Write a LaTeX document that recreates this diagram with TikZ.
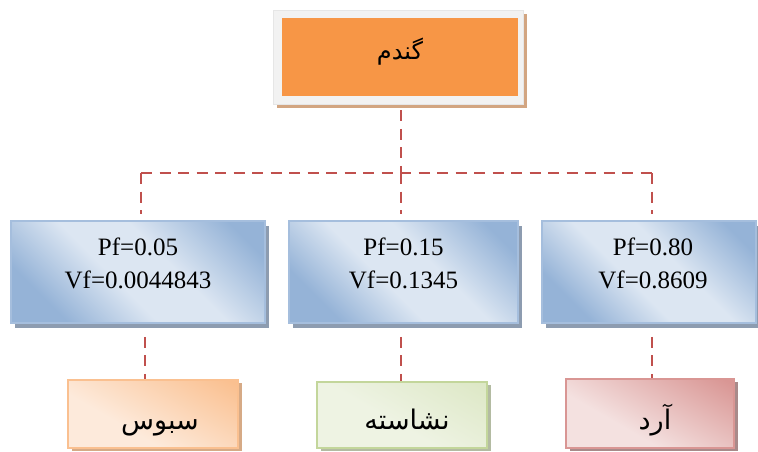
\documentclass[tikz,border=0pt]{standalone}
\usepackage{fontspec}
\setmainfont{Liberation Serif}
\newfontfamily\fa[Script=Arabic]{DejaVu Sans}
\TeXXeTstate=1
\usetikzlibrary{shadows}

% palette
\definecolor{linkRed}{HTML}{C0504D}
\definecolor{orangeMain}{HTML}{F79646}
\definecolor{frameGray}{HTML}{F2F2F2}
\definecolor{frameEdge}{HTML}{E6E6E6}
\definecolor{tanShadow}{HTML}{D2A581}
\definecolor{blueDark}{HTML}{95B3D7}
\definecolor{blueLight}{HTML}{DCE6F2}
\definecolor{blueEdge}{HTML}{A5BEDD}
\definecolor{blueShadow}{HTML}{8D9CB0}
\definecolor{peachLight}{HTML}{FDEADB}
\definecolor{peachDark}{HTML}{FAC090}
\definecolor{peachShadow}{HTML}{D6AA86}
\definecolor{greenLight}{HTML}{EEF3E3}
\definecolor{greenDark}{HTML}{DCE7C4}
\definecolor{greenEdge}{HTML}{C3D69B}
\definecolor{greenShadow}{HTML}{B3BBA2}
\definecolor{roseLight}{HTML}{F4E1E0}
\definecolor{roseDark}{HTML}{D99694}
\definecolor{roseShadow}{HTML}{A98A8A}

% diagonal band shading: dark corners, light middle
\pgfdeclarehorizontalshading{blueband}{100bp}{color(0bp)=(blueDark); color(26bp)=(blueDark); color(44bp)=(blueLight); color(58bp)=(blueLight); color(78bp)=(blueDark); color(100bp)=(blueDark)}
% diagonal ramps for the lower boxes
\pgfdeclarehorizontalshading{peachramp}{100bp}{color(0bp)=(peachLight); color(38bp)=(peachLight); color(82bp)=(peachDark); color(100bp)=(peachDark)}
\pgfdeclarehorizontalshading{greenramp}{100bp}{color(0bp)=(greenLight); color(45bp)=(greenLight); color(85bp)=(greenDark); color(100bp)=(greenDark)}
\pgfdeclarehorizontalshading{roseramp}{100bp}{color(0bp)=(roseLight); color(38bp)=(roseLight); color(82bp)=(roseDark); color(100bp)=(roseDark)}

\tikzset{
  topframe/.style={draw=frameEdge, line width=0.8pt, fill=frameGray, inner sep=0pt,
    minimum width=250pt, minimum height=94pt,
    general shadow={fill=tanShadow, shadow xshift=4pt, shadow yshift=-4pt}},
  topfill/.style={fill=orangeMain, inner sep=0pt, minimum width=236pt, minimum height=78pt},
  midbox/.style={draw=blueEdge, line width=1.6pt, shading=blueband, shading angle=45,
    inner sep=0pt, minimum height=102pt,
    general shadow={fill=blueShadow, shadow xshift=4pt, shadow yshift=-5pt}},
  midtext/.style={align=center, inner sep=0pt, font=\fontsize{25}{33}\selectfont},
  lowbox/.style={line width=1.6pt, inner sep=0pt, minimum width=170pt, minimum height=68pt,
    shading angle=60},
  fatext/.style={inner sep=0pt, anchor=base, font={\fa\fontsize{27}{31}\selectfont}},
  link/.style={draw=linkRed, line width=2.4pt, dash pattern=on 11pt off 7.5pt}
}

\begin{document}
\begin{tikzpicture}[x=1pt, y=-1pt]
  \path[use as bounding box, fill=white] (0,0) rectangle (758,451);

  % top: wheat
  \node[topframe] (top) at (398,57) {};
  \node[topfill] (topin) at (400,57) {};
  \node[fatext, font={\fa\fontsize{24}{28}\selectfont}] (toptext) at (400,59) {\beginR گندم\endR};

  % middle: fraction boxes
  \node[midbox, minimum width=254pt] (m1) at (138,272) {};
  \node[midbox, minimum width=229pt] (m2) at (403.5,272) {};
  \node[midbox, minimum width=214pt] (m3) at (649,272) {};
  \node[midtext] (t1) at (138,263) {Pf=0.05\\Vf=0.0044843};
  \node[midtext] (t2) at (403.5,263) {Pf=0.15\\Vf=0.1345};
  \node[midtext] (t3) at (653,263) {Pf=0.80\\Vf=0.8609};

  % bottom: products
  \node[lowbox, draw=peachDark, shading=peachramp,
    general shadow={fill=peachShadow, shadow xshift=4pt, shadow yshift=-3pt}] (b1) at (153,414) {};
  \node[lowbox, draw=greenEdge, shading=greenramp, minimum height=66pt,
    general shadow={fill=greenShadow, shadow xshift=4pt, shadow yshift=-3pt}] (b2) at (402,415) {};
  \node[lowbox, draw=roseDark, shading=roseramp, minimum width=168pt, minimum height=69pt,
    general shadow={fill=roseShadow, shadow xshift=4pt, shadow yshift=-3pt}] (b3) at (650,413.5) {};
  \node[fatext] (bt1) at (160,429) {\beginR سبوس\endR};
  \node[fatext] (bt2) at (407,429) {\beginR نشاسته\endR};
  \node[fatext] (bt3) at (655,429) {\beginR آرد\endR};

  % tree connectors
  \coordinate (jl) at (141,173);
  \coordinate (jm) at (401,173);
  \coordinate (jr) at (652,173);
  \draw[link, shorten <=6pt] (jm |- top.south) -- (jm);
  \draw[link] (jl) -- (jr);
  \draw[link, shorten >=6pt] (jl) -- (jl |- m1.north);
  \draw[link, shorten >=6pt] (jm) -- (jm |- m2.north);
  \draw[link, shorten >=6pt] (jr) -- (jr |- m3.north);

  \coordinate (k1) at (145,380);
  \coordinate (k2) at (401,382);
  \coordinate (k3) at (652,379);
  \draw[link, shorten <=13pt] (k1 |- m1.south) -- (k1 |- b1.north);
  \draw[link, shorten <=13pt] (k2 |- m2.south) -- (k2 |- b2.north);
  \draw[link, shorten <=13pt] (k3 |- m3.south) -- (k3 |- b3.north);
\end{tikzpicture}
\end{document}
